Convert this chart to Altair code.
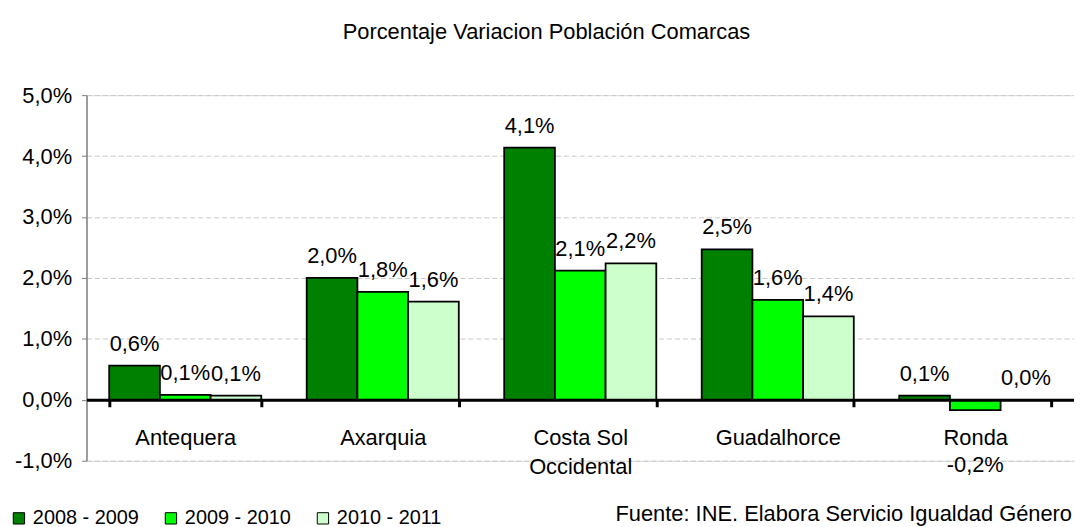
import altair as alt
import pandas as pd

TITLE = "Porcentaje Variacion Población Comarcas"
SOURCE = "Fuente: INE. Elabora Servicio Igualdad Género"

CATEGORIES = ["Antequera", "Axarquia", "Costa Sol Occidental", "Guadalhorce", "Ronda"]
SERIES = ["2008 - 2009", "2009 - 2010", "2010 - 2011"]
V_2008_2009 = [0.56, 2.00, 4.14, 2.47, 0.07]
V_2009_2010 = [0.08, 1.77, 2.12, 1.64, -0.17]
V_2010_2011 = [0.07, 1.61, 2.24, 1.37, 0.00]
COLORS = ["#008000", "#00FF00", "#CCFFCC"]
Y_TICKS = [-1, 0, 1, 2, 3, 4, 5]

rows = []
for i, cat in enumerate(CATEGORIES):
    for s, vals in zip(SERIES, [V_2008_2009, V_2009_2010, V_2010_2011]):
        rows.append({"comarca": cat, "periodo": s, "valor": vals[i]})
df = pd.DataFrame(rows)
src_df = pd.DataFrame({"t": [SOURCE]})

W, H = 994, 368
FONT = "Liberation Sans"

x = alt.X(
    "comarca:N", sort=CATEGORIES,
    scale=alt.Scale(paddingInner=0.23, paddingOuter=0.115),
    axis=alt.Axis(
        title=None, orient="bottom", offset=-H / 6, domainColor="black", domainWidth=3,
        tickColor="black", tickWidth=3, tickSize=7, tickBand="extent",
        labelFontSize=22, labelPadding=21, labelAngle=0, labelLineHeight=29,
        labelColor="black", labelFont=FONT,
        labelExpr="datum.label == 'Costa Sol Occidental' ? ['Costa Sol', 'Occidental'] : datum.label",
        zindex=2, grid=False,
    ),
)
xo = alt.XOffset("periodo:N", sort=SERIES, scale=alt.Scale(paddingInner=0, paddingOuter=0))
y = alt.Y(
    "valor:Q",
    scale=alt.Scale(domain=[-1, 5], nice=False, zero=False),
    axis=alt.Axis(
        title=None, values=Y_TICKS,
        labelExpr="replace(replace(format(datum.value, '.1f'), '.', ','), '\u2212', '-') + '%'",
        grid=True, gridDash=[5, 3], gridColor="#c8c8c8", gridWidth=1,
        domainColor="#808080", domainWidth=1.5, tickColor="#808080", tickSize=5,
        labelPadding=10, labelFontSize=22, labelColor="black", labelFont=FONT,
    ),
)
color = alt.Color(
    "periodo:N", sort=SERIES,
    scale=alt.Scale(domain=SERIES, range=COLORS),
    legend=alt.Legend(
        title=None, orient="none", legendX=-78, legendY=416, direction="horizontal",
        symbolType="square", symbolSize=130, symbolStrokeColor="black", symbolStrokeWidth=1,
        labelFontSize=20, labelFont=FONT, labelColor="black", columnPadding=22, labelOffset=4,
    ),
)

lbl = "replace(replace(format(datum.valor, '.1f'), '.', ','), '\u2212', '-') + '%'"

bars = alt.Chart(df).mark_bar(stroke="black", strokeWidth=1.8).encode(
    x=x, xOffset=xo, y=y, color=color
)
pos_text = alt.Chart(df).transform_filter("datum.valor >= 0").transform_calculate(
    lbl=lbl
).mark_text(baseline="bottom", dy=-10, fontSize=22, font=FONT, color="black").encode(
    x=x, xOffset=xo, y=y, text="lbl:N"
)
neg_text = alt.Chart(df).transform_filter("datum.valor < 0").transform_calculate(
    lbl=lbl
).mark_text(baseline="middle", dy=55, fontSize=22, font=FONT, color="black").encode(
    x=x, xOffset=xo, y=y, text="lbl:N"
)
source = alt.Chart(src_df).mark_text(
    align="right", baseline="middle", fontSize=22, font=FONT, color="black"
).encode(x=alt.value(992), y=alt.value(422), text="t:N")

chart = alt.layer(bars, pos_text, neg_text, source).properties(
    width=W, height=H,
    title=alt.TitleParams(
        TITLE, fontSize=22, fontWeight="normal", anchor="middle", frame="group",
        offset=41, dx=-34, color="black", font=FONT,
    ),
    autosize=alt.AutoSizeParams(type="none"),
    padding={"left": 79, "top": 86, "right": 0, "bottom": 65},
).configure_view(stroke=None).configure(font=FONT)

chart.save("out.html", embed_options={"renderer": "svg", "actions": False})
